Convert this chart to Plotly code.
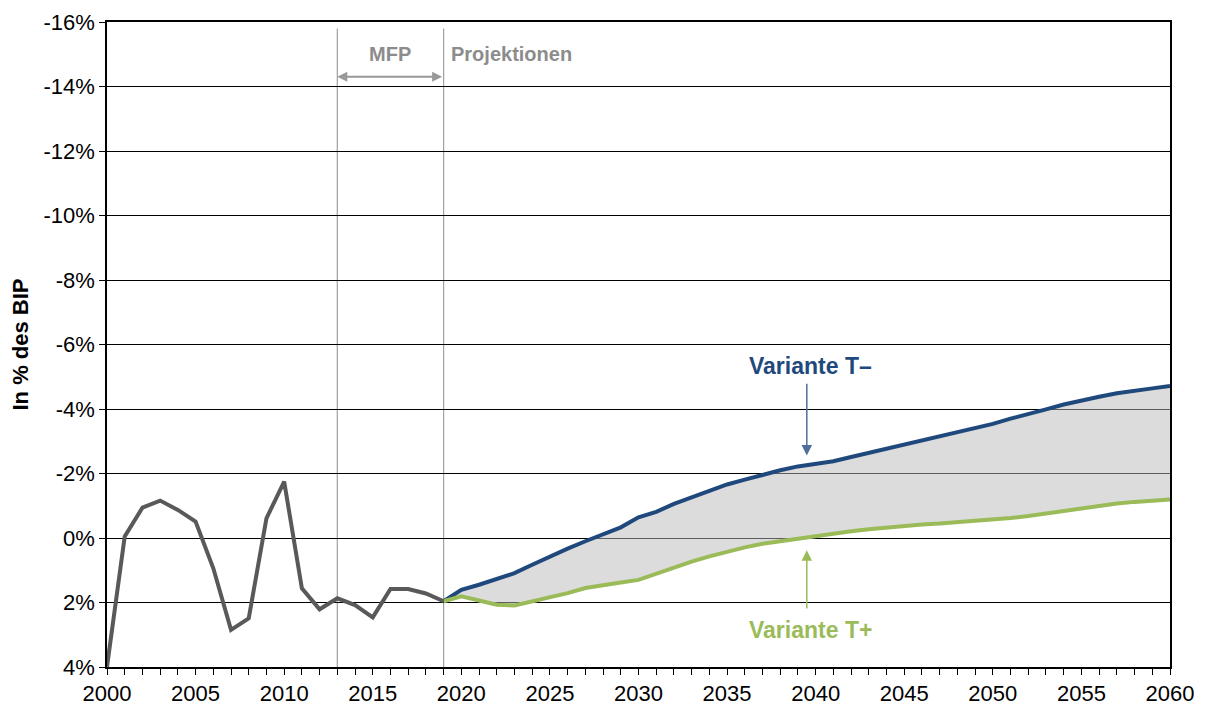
import plotly.graph_objects as go

# historical balance (reversed axis: positive values plot downward)
years_hist = list(range(2000, 2020))
hist = [3.99, -0.05, -0.94, -1.16, -0.87, -0.51, 0.94, 2.85, 2.49, -0.61,
        -1.75, 1.56, 2.21, 1.87, 2.08, 2.46, 1.58, 1.58, 1.72, 1.96]

years_proj = list(range(2019, 2061))
t_minus = [1.96, 1.61, 1.45, 1.28, 1.09, 0.83, 0.57, 0.33, 0.10, -0.10,
           -0.33, -0.64, -0.81, -1.06, -1.27, -1.48, -1.66, -1.81, -1.97, -2.10,
           -2.22, -2.30, -2.38, -2.51, -2.64, -2.76, -2.90, -3.03, -3.16, -3.28,
           -3.40, -3.54, -3.70, -3.83, -3.99, -4.14, -4.27, -4.38, -4.49, -4.58,
           -4.64, -4.71]
t_plus = [1.96, 1.81, 1.94, 2.07, 2.09, 1.97, 1.86, 1.71, 1.55, 1.45,
          1.38, 1.30, 1.11, 0.90, 0.73, 0.57, 0.42, 0.29, 0.18, 0.10,
          0.00, -0.08, -0.13, -0.21, -0.27, -0.33, -0.39, -0.42, -0.45, -0.49,
          -0.52, -0.56, -0.62, -0.68, -0.76, -0.85, -0.94, -1.01, -1.07, -1.12,
          -1.16, -1.19]

y_ticks = list(range(-16, 5, 2))
y_labels = [f"{v}%" for v in y_ticks]

blue = "#1F497D"
green = "#9BBB59"
grey_line = "#595959"
font = "Liberation Sans, Arial, sans-serif"

fig = go.Figure()

fig.add_trace(go.Scatter(x=years_proj, y=t_minus, mode="lines",
                         line=dict(color=blue, width=4), showlegend=False))
fig.add_trace(go.Scatter(x=years_proj, y=t_plus, mode="lines",
                         line=dict(color=green, width=4),
                         fill="tonexty", fillcolor="rgba(185,185,185,0.5)",
                         showlegend=False))
fig.add_trace(go.Scatter(x=years_hist, y=hist, mode="lines",
                         line=dict(color=grey_line, width=4), showlegend=False))

# MFP / projection markers
for yr in (2013, 2019):
    fig.add_shape(type="line", x0=yr, x1=yr, y0=-15.8, y1=4,
                  line=dict(color="#A0A0A0", width=1.2), layer="below")

fig.add_annotation(x=2013, y=-14.3, ax=2019, ay=-14.3, xref="x", yref="y",
                   axref="x", ayref="y", text="", showarrow=True,
                   arrowhead=2, startarrowhead=2, arrowside="end+start",
                   arrowsize=1, startarrowsize=1,
                   arrowwidth=2, arrowcolor="#999999")
fig.add_annotation(x=2016, y=-15.0, text="<b>MFP</b>", showarrow=False,
                   font=dict(size=20, color="#8C8C8C", family=font))
fig.add_annotation(x=2019.3, y=-15.0, text="<b>Projektionen</b>", showarrow=False,
                   xanchor="left", font=dict(size=20, color="#8C8C8C", family=font))

# variant labels with arrows
fig.add_annotation(x=2039.7, y=-5.32, text="<b>Variante T–</b>", showarrow=False,
                   font=dict(size=23, color=blue, family=font))
fig.add_annotation(x=2039.5, y=-2.56, ax=2039.5, ay=-4.83, xref="x", yref="y",
                   axref="x", ayref="y", text="", showarrow=True, arrowhead=2,
                   arrowsize=1.4, arrowwidth=1.5, arrowcolor="#4F6F9A")
fig.add_annotation(x=2039.7, y=2.84, text="<b>Variante T+</b>", showarrow=False,
                   font=dict(size=23, color=green, family=font))
fig.add_annotation(x=2039.5, y=0.38, ax=2039.5, ay=2.23, xref="x", yref="y",
                   axref="x", ayref="y", text="", showarrow=True, arrowhead=2,
                   arrowsize=1.4, arrowwidth=1.5, arrowcolor=green)

fig.update_xaxes(range=[2000, 2060], tick0=2000, dtick=5, automargin=False,
                 ticks="outside", ticklen=6, tickcolor="black",
                 showline=True, linecolor="black", linewidth=2, mirror=True,
                 showgrid=False, zeroline=False,
                 minor=dict(dtick=1, ticks="outside", ticklen=6, tickcolor="black"),
                 tickfont=dict(size=22, color="black", family=font))
fig.update_yaxes(range=[4, -16], tickvals=y_ticks, ticktext=y_labels,
                 automargin=False,
                 ticks="outside", ticklen=6, tickcolor="black",
                 showline=True, linecolor="black", linewidth=1.5, mirror=True,
                 showgrid=True, gridcolor="black", gridwidth=1, zeroline=False,
                 tickfont=dict(size=22, color="black", family=font),
                 title=dict(text="<b>In % des BIP</b>", standoff=10,
                            font=dict(size=22, color="black", family=font)))

# page body adds an 8px margin, so the figure is sized to fit the window
fig.update_layout(width=1199, height=701, plot_bgcolor="white",
                  paper_bgcolor="white",
                  margin=dict(l=99, r=37, t=14, b=42),
                  font=dict(family=font))

fig.write_html("out.html")
